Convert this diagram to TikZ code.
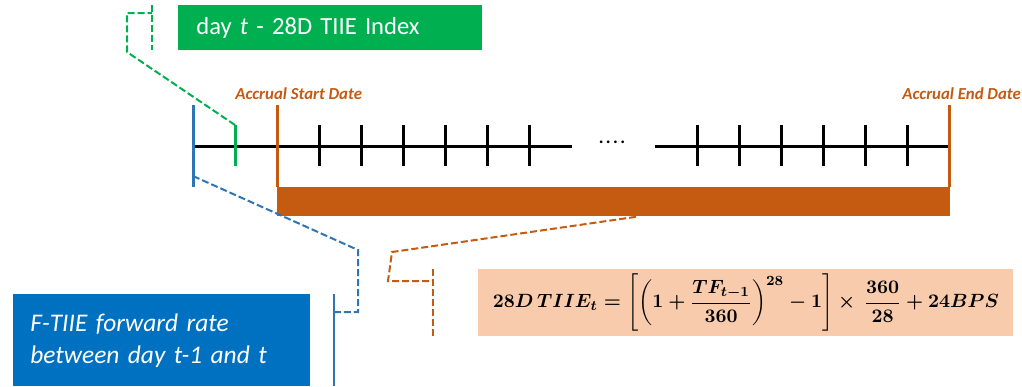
\documentclass[tikz,border=0pt]{standalone}
\usepackage{amsmath}
\usepackage{graphicx}
\usepackage[no-math]{fontspec}
\setmainfont{Carlito}
\usetikzlibrary{positioning, calc}
\definecolor{hijautiie}{RGB}{0,176,80}
\definecolor{birutiie}{RGB}{0,112,192}
\definecolor{birutick}{RGB}{46,117,182}
\definecolor{oranyeaccrual}{RGB}{197,90,17}
\definecolor{oranyemuda}{RGB}{248,203,173}
\newsavebox{\rumusbox}

\begin{document}
\savebox{\rumusbox}{\resizebox{253pt}{!}{\fontsize{11}{13}\selectfont\boldmath
    $28D\,TIIE_t=\left[\left(1+\dfrac{TF_{t-1}}{360}\right)^{28}-1\right]\times\,\dfrac{360}{28}+24BPS$}}
\begin{tikzpicture}[x=0.5pt, y=-0.5pt,
    tick/.style={line width=1.5pt},
    callout/.style={line width=1pt, dash pattern=on 3.5pt off 1.5pt},
    datelbl/.style={text=oranyeaccrual, inner sep=0pt,
        font=\fontsize{8.4}{10}\selectfont\bfseries\itshape}]
    \useasboundingbox (0,0) rectangle (1022,386);

    % kotak keterangan
    \node[fill=hijautiie, text=white, anchor=north west, minimum height=22.5pt,
        text width=134pt, inner xsep=9pt, inner ysep=0pt, align=left,
        font=\fontsize{12.3}{14}\selectfont] (idxbox) at (178,5)
        {day \textit{t} - 28D TIIE Index};
    \node[fill=birutiie, text=white, anchor=north west, minimum height=46pt,
        text width=131.5pt, inner xsep=8.5pt, inner ysep=0pt, align=left,
        font=\fontsize{12.7}{16}\selectfont\itshape] (fwdbox) at (13,294)
        {F-TIIE forward rate\\between day t-1 and t};
    \node[fill=oranyemuda, anchor=north west, minimum width=267.5pt,
        minimum height=33.5pt, inner sep=0pt] (tiiebox) at (478,269)
        {\usebox{\rumusbox}};

    % garis waktu
    \coordinate (tl0) at (193,146);
    \coordinate (tlbreak) at (572,146);
    \coordinate (tlresume) at (655,146);
    \coordinate (tlend) at (949,146);
    \draw[tick] (tl0) -- (tlbreak);
    \draw[tick] (tlresume) -- (tlend);
    \node[inner sep=0pt, font=\fontsize{9}{9}\selectfont\bfseries] (gap) at (612,142)
        {.\kern1.2pt.\kern1.2pt.\kern1.2pt.};
    \foreach \x in {319,361,...,529}
        \draw[tick] (\x,125) -- (\x,166);
    \foreach \x in {697,739,...,907}
        \draw[tick] (\x,125) -- (\x,166);

    \node[fill=oranyeaccrual, anchor=north west, minimum width=336.5pt,
        minimum height=14.5pt, inner sep=0pt] (accbar) at (277,187) {};
    \draw[tick, birutick] (193,105) -- (193,187);
    \draw[tick, hijautiie] (235,125) -- (235,166);
    \draw[tick, oranyeaccrual] (277,105) -- (277,187);
    \draw[tick, oranyeaccrual] (949,105) -- (949,187);
    \node[datelbl, anchor=base west] (startlbl) at (235,99) {Accrual Start Date};
    \node[datelbl, anchor=base west] (endlbl) at (902,99) {Accrual End Date};

    % garis penunjuk
    \coordinate (idxtick) at (235,125);
    \coordinate (idxbrk) at (152,13);
    \coordinate (fwdtick) at (193,176);
    \coordinate (fwdbrk) at (334,312);
    \coordinate (accpt) at ($(accbar.south west)+(359,0)$);
    \coordinate (tiiebrk) at (433,281);
    \draw[callout, hijautiie] (idxtick) -- (127,52) -- (127,13) -- (idxbrk);
    \draw[callout, hijautiie] (152,5) -- (152,50);
    \draw[callout, birutick] (fwdtick) -- (358,250) -- (358,312) -- (fwdbrk);
    \draw[line width=1pt, birutick] (334,294) -- (334,386);
    \draw[callout, oranyeaccrual] (accpt) -- (392,252) -- (388,281) -- (tiiebrk);
    \draw[callout, oranyeaccrual] (433,269) -- (433,336);
\end{tikzpicture}
\end{document}
